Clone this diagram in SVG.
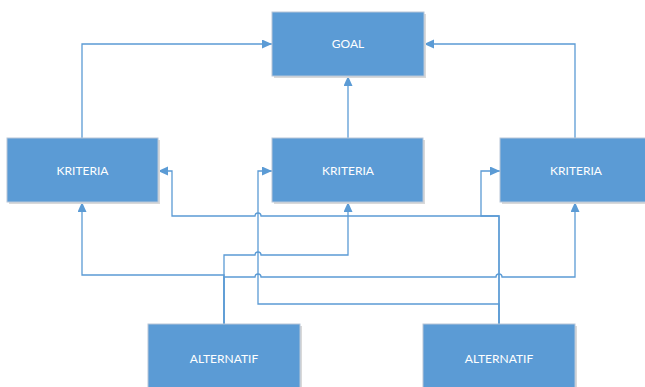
<svg xmlns="http://www.w3.org/2000/svg" width="645" height="387" viewBox="0 0 645 387">
<style>
.box{fill:#5B9BD5;stroke:#B7C6D8;stroke-width:1}
.sh{fill:#D9D9D9}
.lbl{fill:#FFFFFF;font-family:Lato,"Open Sans",sans-serif;font-size:12px;text-anchor:middle}
.con{fill:none;stroke:#5B9BD5;stroke-width:1.3}
</style>
<defs>
<marker id="ah" markerUnits="userSpaceOnUse" markerWidth="10" markerHeight="10" refX="10" refY="4.5" orient="auto">
<path d="M0,0 L10,4.5 L0,9 z" fill="#5B9BD5"/>
</marker>
</defs>
<rect width="645" height="387" fill="#FFFFFF"/>
<g id="connectors">
<path class="con" marker-end="url(#ah)" d="M82 138 V44 H272"/>
<path class="con" marker-end="url(#ah)" d="M348 138 V76"/>
<path class="con" marker-end="url(#ah)" d="M575 138 V44 H424"/>
<path class="con" marker-end="url(#ah)" d="M224 324 V275 H82 V202"/>
<path class="con" marker-end="url(#ah)" d="M224 324 V255 H255 a3 3 0 0 1 6 0 H348 V202"/>
<path class="con" marker-end="url(#ah)" d="M224 324 V277 H255 a3 3 0 0 1 6 0 H496 a3 3 0 0 1 6 0 H575 V202"/>
<path class="con" marker-end="url(#ah)" d="M499 324 V216 H261 a3 3 0 0 0 -6 0 H172 V171 H158"/>
<path class="con" marker-end="url(#ah)" d="M499 324 V304 H258 V171 H272"/>
<path class="con" marker-end="url(#ah)" d="M499 324 V216 H481 V171 H500"/>
</g>
<g id="goal">
<rect class="sh" x="274" y="14" width="152" height="64"/>
<rect class="box" x="272" y="12" width="152" height="64"/>
<text class="lbl" x="348" y="48">GOAL</text>
</g>
<g id="kriteria1">
<rect class="sh" x="9" y="140" width="151" height="64"/>
<rect class="box" x="7" y="138" width="151" height="64"/>
<text class="lbl" x="82.5" y="175">KRITERIA</text>
</g>
<g id="kriteria2">
<rect class="sh" x="274" y="140" width="151" height="64"/>
<rect class="box" x="272" y="138" width="151" height="64"/>
<text class="lbl" x="348" y="175">KRITERIA</text>
</g>
<g id="kriteria3">
<rect class="sh" x="502" y="140" width="152" height="64"/>
<rect class="box" x="500" y="138" width="152" height="64"/>
<text class="lbl" x="576" y="175">KRITERIA</text>
</g>
<g id="alternatif1">
<rect class="sh" x="150" y="326" width="152" height="70"/>
<rect class="box" x="148" y="324" width="152" height="70"/>
<text class="lbl" x="224" y="363">ALTERNATIF</text>
</g>
<g id="alternatif2">
<rect class="sh" x="425" y="326" width="152" height="70"/>
<rect class="box" x="423" y="324" width="152" height="70"/>
<text class="lbl" x="499" y="363">ALTERNATIF</text>
</g>
</svg>
